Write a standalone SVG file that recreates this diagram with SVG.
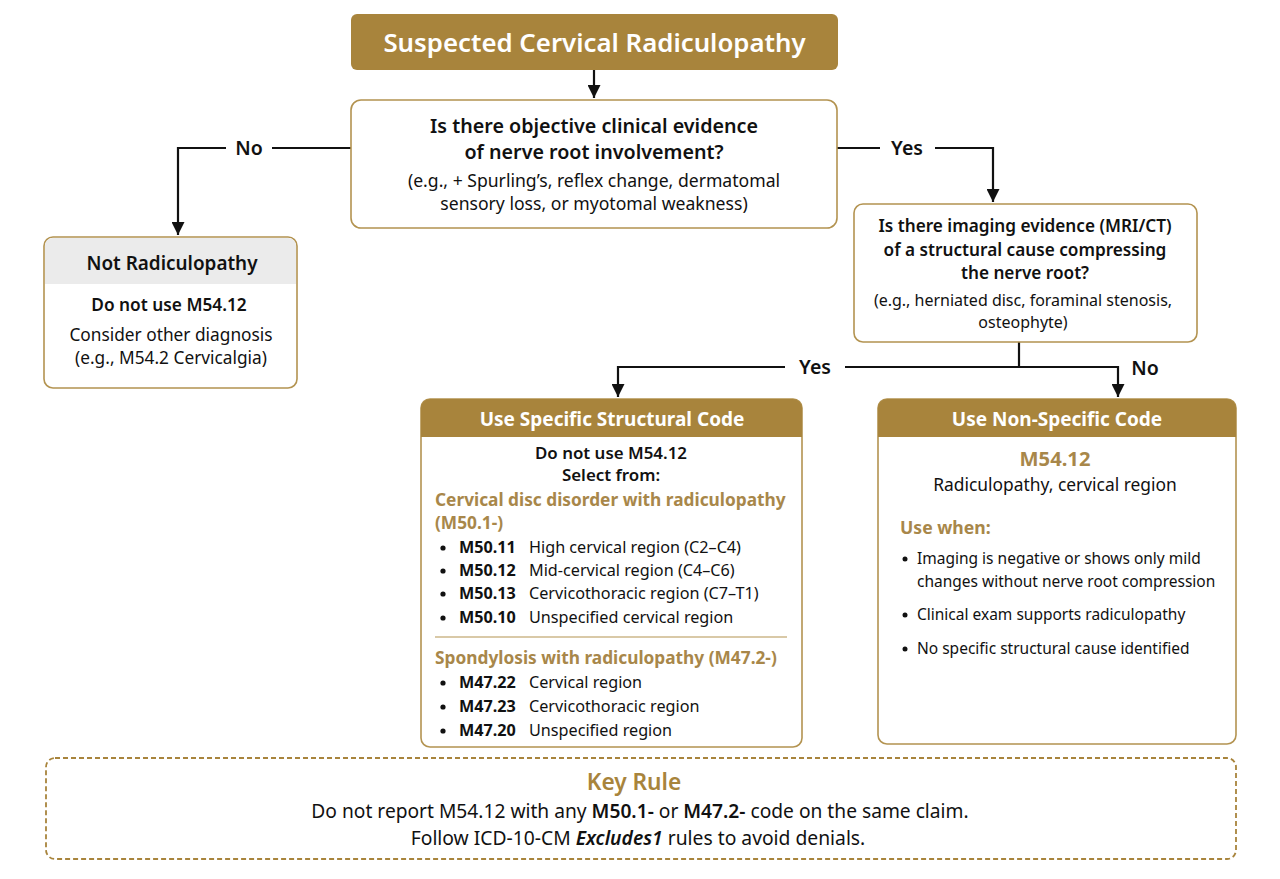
<svg xmlns="http://www.w3.org/2000/svg" width="1280" height="879" viewBox="0 0 1280 879">
<defs>
<marker id="ah" markerWidth="13" markerHeight="13" refX="10" refY="5" orient="auto" markerUnits="userSpaceOnUse" viewBox="0 0 10 10">
<path d="M0,0 L10,5 L0,10 Z" fill="#111"/>
</marker>
<style>
text{font-family:"Noto Sans","Open Sans","Liberation Sans",sans-serif;fill:#111;}
.box{fill:#fff;stroke:#B39350;stroke-width:1.6;}
.gold{fill:#A8843C;}
.hd{fill:#fff;font-weight:700;font-size:19px;text-anchor:middle;}
.q{font-weight:600;font-size:19.7px;text-anchor:middle;}
.s{font-size:17.6px;text-anchor:middle;}
.b{font-weight:700;}
.gt{fill:#A8874A;font-weight:700;}
.li{font-size:16.2px;}
.dot{fill:#111;}
.lbl{font-weight:600;font-size:19.5px;text-anchor:middle;}
.cn{fill:none;stroke:#111;stroke-width:2.2;}
</style>
</defs>
<rect width="1280" height="879" fill="#fff"/>

<g id="connectors">
<line class="cn" x1="594" y1="70" x2="594" y2="98" marker-end="url(#ah)"/>
<polyline class="cn" points="351,148 272,148"/>
<polyline class="cn" points="226,148 178,148 178,235" marker-end="url(#ah)"/>
<polyline class="cn" points="837,148 880,148"/>
<polyline class="cn" points="935,148 993,148 993,202" marker-end="url(#ah)"/>
<line class="cn" x1="1019" y1="342" x2="1019" y2="367"/>
<polyline class="cn" points="785,367 618,367 618,397" marker-end="url(#ah)"/>
<polyline class="cn" points="845,367 1118,367 1118,397" marker-end="url(#ah)"/>
<text class="lbl" x="249" y="155">No</text>
<text class="lbl" x="907" y="155">Yes</text>
<text class="lbl" x="815" y="374">Yes</text>
<text class="lbl" x="1145" y="375">No</text>
</g>

<g id="start">
<rect x="351" y="14" width="487" height="56" rx="6" class="gold"/>
<text x="594.5" y="52" style="fill:#fff;font-weight:600;font-size:25.8px;text-anchor:middle;">Suspected Cervical Radiculopathy</text>
</g>

<g id="q1">
<rect x="351" y="100" width="486" height="128" rx="10" class="box"/>
<text class="q" x="594" y="133">Is there objective clinical evidence</text>
<text class="q" x="594" y="159">of nerve root involvement?</text>
<text class="s" x="594" y="187">(e.g., + Spurling’s, reflex change, dermatomal</text>
<text class="s" x="594" y="210">sensory loss, or myotomal weakness)</text>
</g>

<g id="notradic">
<rect x="44" y="237" width="253" height="151" rx="9" class="box"/>
<path d="M45,284 V246 a8,8 0 0 1 8,-8 H288 a8,8 0 0 1 8,8 V284 Z" fill="#EBEBEB"/>
<text x="172" y="270" style="font-weight:600;font-size:18.9px;text-anchor:middle;">Not Radiculopathy</text>
<text x="169" y="311" style="font-weight:600;font-size:17.3px;text-anchor:middle;">Do not use M54.12</text>
<text class="s" x="171" y="341" style="font-size:17.3px">Consider other diagnosis</text>
<text class="s" x="171" y="364" style="font-size:17.3px">(e.g., M54.2 Cervicalgia)</text>
</g>

<g id="q2">
<rect x="854" y="204" width="343" height="138" rx="9" class="box"/>
<text class="q" x="1025" y="232" style="font-size:17.2px">Is there imaging evidence (MRI/CT)</text>
<text class="q" x="1025" y="256" style="font-size:17.2px">of a structural cause compressing</text>
<text class="q" x="1025" y="279" style="font-size:17.2px">the nerve root?</text>
<text class="s" x="1023" y="306" style="font-size:16px">(e.g., herniated disc, foraminal stenosis,</text>
<text class="s" x="1023" y="328" style="font-size:16px">osteophyte)</text>
</g>

<g id="structural">
<rect x="421" y="399" width="381" height="348" rx="9" class="box"/>
<path d="M421,437 V408 a9,9 0 0 1 9,-9 H793 a9,9 0 0 1 9,9 V437 Z" class="gold"/>
<text class="hd" x="612" y="426">Use Specific Structural Code</text>
<text x="611" y="459" style="font-weight:600;font-size:16.9px;text-anchor:middle;">Do not use M54.12</text>
<text x="611" y="481" style="font-weight:600;font-size:16.9px;text-anchor:middle;">Select from:</text>
<text class="gt" x="435" y="506" style="font-size:17.3px">Cervical disc disorder with radiculopathy</text>
<text class="gt" x="435" y="529" style="font-size:17.3px">(M50.1-)</text>
<circle class="dot" cx="443" cy="548" r="2.6"/><text x="459" y="553" class="li b">M50.11</text><text x="529" y="553" class="li">High cervical region (C2–C4)</text>
<circle class="dot" cx="443" cy="571" r="2.6"/><text x="459" y="576" class="li b">M50.12</text><text x="529" y="576" class="li">Mid-cervical region (C4–C6)</text>
<circle class="dot" cx="443" cy="594" r="2.6"/><text x="459" y="599" class="li b">M50.13</text><text x="529" y="599" class="li">Cervicothoracic region (C7–T1)</text>
<circle class="dot" cx="443" cy="618" r="2.6"/><text x="459" y="623" class="li b">M50.10</text><text x="529" y="623" class="li">Unspecified cervical region</text>
<line x1="435" y1="637" x2="787" y2="637" stroke="#B39350" stroke-width="1.2"/>
<text class="gt" x="435" y="664" style="font-size:17.3px">Spondylosis with radiculopathy (M47.2-)</text>
<circle class="dot" cx="443" cy="683" r="2.6"/><text x="459" y="688" class="li b">M47.22</text><text x="529" y="688" class="li">Cervical region</text>
<circle class="dot" cx="443" cy="707" r="2.6"/><text x="459" y="712" class="li b">M47.23</text><text x="529" y="712" class="li">Cervicothoracic region</text>
<circle class="dot" cx="443" cy="731" r="2.6"/><text x="459" y="736" class="li b">M47.20</text><text x="529" y="736" class="li">Unspecified region</text>
</g>

<g id="nonspecific">
<rect x="878" y="399" width="358" height="345" rx="9" class="box"/>
<path d="M878,437 V408 a9,9 0 0 1 9,-9 H1227 a9,9 0 0 1 9,9 V437 Z" class="gold"/>
<text class="hd" x="1057" y="426">Use Non-Specific Code</text>
<text class="gt" x="1055" y="466" style="font-size:20.2px;text-anchor:middle;">M54.12</text>
<text class="s" x="1055" y="491" style="font-size:17.4px">Radiculopathy, cervical region</text>
<text class="gt" x="900" y="534" style="font-size:17.6px">Use when:</text>
<circle class="dot" cx="905" cy="559" r="2.5"/><text x="917" y="564" style="font-size:15.5px">Imaging is negative or shows only mild</text>
<text x="917" y="587" style="font-size:15.5px">changes without nerve root compression</text>
<circle class="dot" cx="905" cy="615" r="2.5"/><text x="917" y="620" style="font-size:15.5px">Clinical exam supports radiculopathy</text>
<circle class="dot" cx="905" cy="649" r="2.5"/><text x="917" y="654" style="font-size:15.5px">No specific structural cause identified</text>
</g>

<g id="keyrule">
<rect x="46" y="758" width="1190" height="101" rx="9" fill="#fff" stroke="#A8843C" stroke-width="1.8" stroke-dasharray="5,3"/>
<text x="634" y="790" style="fill:#A8843C;font-weight:600;font-size:22.7px;text-anchor:middle;">Key Rule</text>
<text x="640" y="818" style="font-size:19.2px;text-anchor:middle;">Do not report M54.12 with any <tspan font-weight="600">M50.1-</tspan> or <tspan font-weight="600">M47.2-</tspan> code on the same claim.</text>
<text x="638" y="845" style="font-size:19.3px;text-anchor:middle;">Follow ICD-10-CM <tspan font-weight="600" font-style="italic">Excludes1</tspan> rules to avoid denials.</text>
</g>
</svg>
